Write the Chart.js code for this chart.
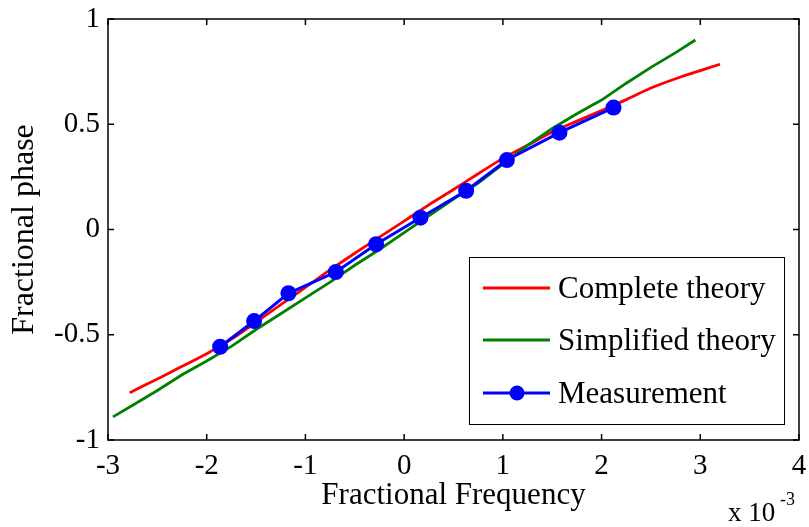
<!DOCTYPE html>
<html><head><meta charset="utf-8">
<script src="https://cdn.jsdelivr.net/npm/chart.js@4"></script>
<style>html,body{margin:0;padding:0;background:#fff}#wrap{width:809px;height:527px}</style>
</head><body><div id="wrap"><canvas id="c" width="809" height="527"></canvas></div>
<script>
// Fractional frequency (x 10^-3) vs fractional phase
const completeX = [-2.78,-2.5,-2.25,-2.0,-1.75,-1.5,-1.25,-1.0,-0.75,-0.5,-0.25,0,0.25,0.5,0.75,1.0,1.25,1.5,1.75,2.0,2.25,2.5,2.75,3.0,3.2];
const completeY = [-0.775,-0.71,-0.65,-0.59,-0.521,-0.44,-0.357,-0.275,-0.192,-0.113,-0.036,0.04,0.117,0.19,0.265,0.338,0.40,0.463,0.515,0.565,0.617,0.672,0.716,0.755,0.785];
const simplifiedX = [-2.95,-2.75,-2.5,-2.25,-2.0,-1.75,-1.5,-1.25,-1.0,-0.75,-0.5,-0.25,0,0.25,0.5,0.75,1.0,1.25,1.5,1.75,2.0,2.25,2.5,2.75,2.95];
const simplifiedY = [-0.89,-0.835,-0.765,-0.69,-0.625,-0.555,-0.475,-0.40,-0.325,-0.25,-0.17,-0.095,-0.015,0.065,0.145,0.22,0.31,0.40,0.48,0.55,0.615,0.695,0.77,0.84,0.90];
const measX = [-1.864,-1.520,-1.172,-0.692,-0.284,0.165,0.628,1.041,1.573,2.121];
const measY = [-0.557,-0.435,-0.303,-0.202,-0.070,0.056,0.184,0.330,0.460,0.579];
const xTicks = [-3,-2,-1,0,1,2,3,4];
const yTicks = [-1,-0.5,0,0.5,1];
const yTickLabels = ['-1','-0.5','0','0.5','1'];
const seriesNames = ['Complete theory','Simplified theory','Measurement'];
const seriesColors = ['#ff0000','#008000','#0000ff'];

const pts = (xs, ys) => xs.map((x, i) => ({x: x, y: ys[i]}));
const FONT = '"Liberation Serif","Times New Roman",serif';

const boxPlugin = {
  id: 'box',
  afterDraw(chart) {
    const ctx = chart.ctx, a = chart.chartArea;
    const xs = chart.scales.x, ys = chart.scales.y;
    ctx.save();
    ctx.strokeStyle = '#000';
    ctx.lineWidth = 1.5;
    ctx.strokeRect(a.left, a.top, a.right - a.left, a.bottom - a.top);
    const tl = 6;
    ctx.beginPath();
    xTicks.forEach(v => {
      const px = xs.getPixelForValue(v);
      ctx.moveTo(px, a.bottom); ctx.lineTo(px, a.bottom - tl);
      ctx.moveTo(px, a.top); ctx.lineTo(px, a.top + tl);
    });
    yTicks.forEach(v => {
      const py = ys.getPixelForValue(v);
      ctx.moveTo(a.left, py); ctx.lineTo(a.left + tl, py);
      ctx.moveTo(a.right, py); ctx.lineTo(a.right - tl, py);
    });
    ctx.stroke();

    // legend
    const lx = 469, ly = 257, lw = 315, lh = 167;
    ctx.fillStyle = '#fff';
    ctx.fillRect(lx, ly, lw, lh);
    ctx.lineWidth = 1;
    ctx.strokeRect(lx + 0.5, ly + 0.5, lw, lh);
    const rows = [288, 340, 393];
    ctx.font = '31px ' + FONT;
    ctx.textBaseline = 'middle';
    ctx.textAlign = 'left';
    seriesNames.forEach((n, i) => {
      ctx.strokeStyle = seriesColors[i];
      ctx.lineWidth = 3;
      ctx.beginPath(); ctx.moveTo(483, rows[i]); ctx.lineTo(550, rows[i]); ctx.stroke();
      if (i === 2) {
        ctx.fillStyle = seriesColors[i];
        ctx.beginPath(); ctx.arc(517, rows[i], 7.5, 0, Math.PI * 2); ctx.fill();
      }
      ctx.fillStyle = '#000';
      ctx.fillText(n, 558, rows[i] + 2);
    });

    // exponent label
    ctx.fillStyle = '#000';
    ctx.textBaseline = 'alphabetic';
    ctx.font = '27px ' + FONT;
    ctx.fillText('x 10', 728, 521);
    ctx.font = '18px ' + FONT;
    ctx.fillText('-3', 780, 505);
    ctx.restore();
  }
};

new Chart(document.getElementById('c'), {
  type: 'scatter',
  data: {
    datasets: [
      {label: seriesNames[0], data: pts(completeX, completeY), showLine: true, borderColor: seriesColors[0], borderWidth: 2.8, pointRadius: 0, tension: 0.3},
      {label: seriesNames[1], data: pts(simplifiedX, simplifiedY), showLine: true, borderColor: seriesColors[1], borderWidth: 2.8, pointRadius: 0, tension: 0},
      {label: seriesNames[2], data: pts(measX, measY), showLine: true, borderColor: seriesColors[2], backgroundColor: seriesColors[2], borderWidth: 3, pointRadius: 8, pointBorderWidth: 0, tension: 0}
    ].reverse()
  },
  options: {
    responsive: false,
    animation: false,
    devicePixelRatio: 1,
    layout: {padding: {left: 0, right: 10, top: 19, bottom: 0}},
    plugins: {legend: {display: false}, tooltip: {enabled: false}},
    scales: {
      x: {
        type: 'linear', min: -3, max: 4,
        afterBuildTicks: s => { s.ticks = xTicks.map(v => ({value: v})); },
        afterFit: s => { s.height = 87; s.paddingLeft = 0; s.paddingRight = 0; },
        grid: {display: false, drawTicks: false},
        border: {display: false},
        ticks: {color: '#000', font: {family: FONT, size: 29}, padding: 9, maxRotation: 0},
        title: {display: true, text: 'Fractional Frequency', color: '#000', font: {family: FONT, size: 31}, padding: {top: 0, bottom: 13}}
      },
      y: {
        type: 'linear', min: -1, max: 1,
        afterBuildTicks: s => { s.ticks = yTicks.map(v => ({value: v})); },
        afterFit: s => { s.width = 108; s.paddingTop = 0; s.paddingBottom = 0; },
        grid: {display: false, drawTicks: false},
        border: {display: false},
        ticks: {color: '#000', font: {family: FONT, size: 29}, padding: 8,
          callback: v => { const i = yTicks.indexOf(v); return i >= 0 ? yTickLabels[i] : ''; }},
        title: {display: true, text: 'Fractional phase', color: '#000', font: {family: FONT, size: 32}, padding: {top: 5, bottom: 0}}
      }
    }
  },
  plugins: [boxPlugin]
});
</script>
</body></html>
